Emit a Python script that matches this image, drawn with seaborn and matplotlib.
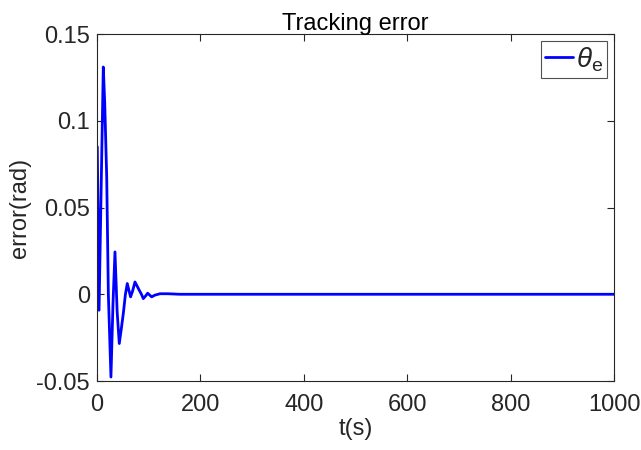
import matplotlib
matplotlib.use("Agg")
import matplotlib.pyplot as plt
import seaborn as sns
import pandas as pd

t = [0.6, 4, 8, 12.2, 15, 18.8, 22, 27, 31, 34.8, 39, 43.1, 47, 50.9, 55, 58.6, 62, 65, 69, 73.5, 78, 81.8, 86, 89.6, 94, 98, 102, 105.7, 112, 122, 137, 160, 200, 400, 600, 800, 1000]
err = [0.085, -0.0092, 0.06, 0.131, 0.11, 0.0676, 0.0, -0.0477, -0.005, 0.0244, -0.01, -0.0284, -0.02, -0.0111, 0.0, 0.0062, 0.002, -0.0015, 0.002, 0.0071, 0.0045, 0.0023, 0.0, -0.0025, -0.001, 0.0006, -0.0005, -0.0015, -0.0005, 0.0003, 0.0003, 0.0, 0.0, 0.0, 0.0, 0.0, 0.0]

df = pd.DataFrame({"t": t, "err": err})

sns.set_style("ticks")
plt.rcParams['font.family'] = ['Liberation Sans', 'DejaVu Sans']
plt.rcParams['mathtext.fontset'] = 'custom'
plt.rcParams['mathtext.it'] = 'Liberation Sans:italic'
plt.rcParams['mathtext.rm'] = 'Liberation Sans'

fig = plt.figure(figsize=(6.41, 4.5), dpi=100)
ax = fig.add_axes([0.1513, 0.1533, 0.8066, 0.7711])
sns.lineplot(data=df, x="t", y="err", ax=ax, color="#0000ff", linewidth=2, label=r"$\theta_{\mathrm{e}}$")
ax.set_xlim(0, 1000)
ax.set_ylim(-0.05, 0.15)
ax.set_xticks([0, 200, 400, 600, 800, 1000])
ax.set_yticks([-0.05, 0, 0.05, 0.1, 0.15])
ax.set_yticklabels(["-0.05", "0", "0.05", "0.1", "0.15"])
ax.tick_params(direction="in", top=True, right=True, labelsize=17, length=5, color="#262626", labelcolor="#262626")
ax.tick_params(axis="x", pad=9)
ax.tick_params(axis="y", pad=5)
for s in ax.spines.values():
    s.set_color("#262626")
    s.set_linewidth(0.8)
ax.set_xlabel("t(s)", fontsize=17, color="#262626", labelpad=2)
ax.set_ylabel("error(rad)", fontsize=17, color="#262626", labelpad=4)
ax.set_title("Tracking error", fontsize=17, pad=3, color="black")
leg = ax.legend(loc="upper right", fontsize=20, frameon=True, fancybox=False, handlelength=1.0, handletextpad=0.1, borderpad=0.15, borderaxespad=0.25)
leg.get_frame().set_edgecolor("#262626")
leg.get_frame().set_linewidth(0.8)
fig.savefig("out.png", dpi=100)
